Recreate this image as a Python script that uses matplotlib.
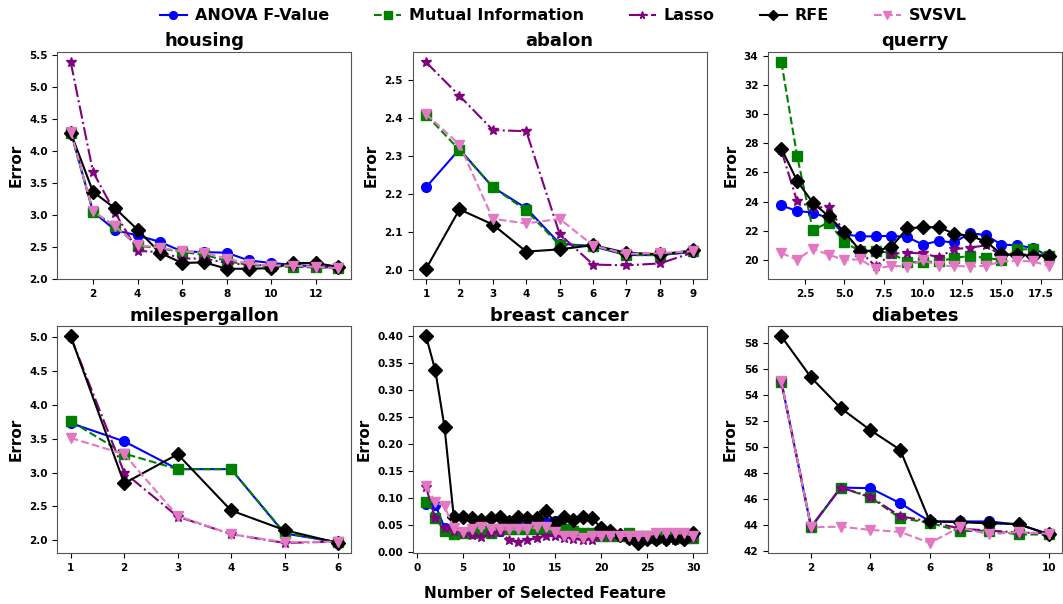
import numpy as np
import matplotlib
matplotlib.use("Agg")
import matplotlib.pyplot as plt

plt.rcParams.update({
    "font.weight": "bold", "axes.labelweight": "bold", "axes.titleweight": "bold",
    "xtick.labelsize": 7.5, "ytick.labelsize": 7.5,
})

# --- data -------------------------------------------------------------------
methods = ["ANOVA F-Value", "Mutual Information", "Lasso", "RFE", "SVSVL"]
STYLE = {
    "ANOVA F-Value": dict(color="blue", ls="-", marker="o"),
    "Mutual Information": dict(color="green", ls="--", marker="s"),
    "Lasso": dict(color="purple", ls="-.", marker="*"),
    "RFE": dict(color="black", ls="-", marker="D"),
    "SVSVL": dict(color="#e377c2", ls="--", marker="v"),
}

housing_anova = [4.30, 3.05, 2.76, 2.68, 2.58, 2.43, 2.42, 2.41, 2.29, 2.25, 2.22, 2.20, 2.18]
housing_mi = [4.28, 3.05, 2.82, 2.52, 2.48, 2.42, 2.38, 2.28, 2.22, 2.20, 2.19, 2.18, 2.17]
housing_lasso = [5.38, 3.67, 3.03, 2.44, 2.42, 2.32, 2.32, 2.25, 2.22, 2.21, 2.21, 2.19, 2.17]
housing_rfe = [4.28, 3.36, 3.10, 2.77, 2.41, 2.25, 2.26, 2.16, 2.16, 2.17, 2.25, 2.25, 2.19]
housing_svsvl = [4.30, 3.06, 2.82, 2.53, 2.49, 2.43, 2.41, 2.32, 2.24, 2.21, 2.21, 2.19, 2.17]

abalon_anova = [2.218, 2.318, 2.218, 2.163, 2.070, 2.063, 2.040, 2.040, 2.048]
abalon_mi = [2.408, 2.316, 2.218, 2.157, 2.066, 2.065, 2.040, 2.040, 2.050]
abalon_lasso = [2.546, 2.458, 2.368, 2.365, 2.095, 2.015, 2.013, 2.018, 2.047]
abalon_rfe = [2.004, 2.160, 2.120, 2.049, 2.055, 2.066, 2.046, 2.042, 2.052]
abalon_svsvl = [2.410, 2.330, 2.135, 2.123, 2.135, 2.065, 2.043, 2.045, 2.050]

querry_anova = [23.74, 23.35, 23.25, 22.86, 21.76, 21.62, 21.62, 21.66, 21.57, 21.06,
                21.30, 21.20, 21.85, 21.70, 21.06, 21.00, 20.83, 20.26]
querry_mi = [33.54, 27.12, 22.06, 22.56, 21.23, 20.60, 20.60, 20.50, 19.84, 19.86,
             19.90, 20.14, 20.28, 20.14, 20.00, 20.72, 20.75, 20.30]
querry_lasso = [27.50, 24.01, 23.60, 23.62, 21.90, 20.60, 19.57, 20.42, 20.50, 20.45,
                20.19, 20.74, 20.85, 21.00, 20.30, 20.40, 20.35, 20.30]
querry_rfe = [27.63, 25.42, 23.92, 23.00, 21.94, 20.65, 20.62, 20.90, 22.17, 22.24,
              22.25, 21.80, 21.65, 21.28, 20.40, 20.35, 20.30, 20.30]
querry_svsvl = [20.47, 20.03, 20.77, 20.37, 20.00, 20.05, 19.40, 19.60, 19.55, 20.00,
                19.60, 19.60, 19.55, 19.60, 19.90, 19.95, 19.90, 19.60]

mpg_anova = [3.73, 3.46, 3.05, 3.05, 2.10, 1.97]
mpg_mi = [3.76, 3.28, 3.05, 3.05, 2.11, 1.97]
mpg_lasso = [5.00, 3.00, 2.35, 2.09, 1.96, 1.98]
mpg_rfe = [5.01, 2.84, 3.27, 2.44, 2.15, 1.96]
mpg_svsvl = [3.51, 3.27, 2.36, 2.09, 1.97, 1.98]

bc_anova = [0.090, 0.088, 0.045, 0.040, 0.037, 0.040, 0.038, 0.040, 0.040, 0.045,
            0.050, 0.048, 0.048, 0.055, 0.058, 0.040, 0.038, 0.035, 0.035, 0.032,
            0.032, 0.030, 0.030, 0.030, 0.030, 0.030, 0.030, 0.030, 0.030, 0.030]
bc_mi = [0.093, 0.063, 0.040, 0.034, 0.035, 0.035, 0.040, 0.035, 0.042, 0.043,
         0.043, 0.043, 0.043, 0.043, 0.045, 0.043, 0.040, 0.035, 0.035, 0.030,
         0.030, 0.030, 0.035, 0.030, 0.030, 0.027, 0.030, 0.030, 0.027, 0.027]
bc_lasso = [0.120, 0.063, 0.045, 0.040, 0.035, 0.032, 0.028, 0.035, 0.037, 0.023,
            0.018, 0.022, 0.026, 0.030, 0.030, 0.027, 0.025, 0.022, 0.022, 0.030,
            0.030, 0.030, 0.025, 0.025, 0.025, 0.022, 0.022, 0.022, 0.025, 0.027]
bc_rfe = [0.400, 0.337, 0.232, 0.066, 0.066, 0.063, 0.060, 0.063, 0.066, 0.056,
          0.066, 0.063, 0.063, 0.077, 0.054, 0.066, 0.060, 0.066, 0.063, 0.045,
          0.040, 0.032, 0.027, 0.017, 0.025, 0.025, 0.025, 0.027, 0.025, 0.035]
bc_svsvl = [0.122, 0.093, 0.085, 0.045, 0.037, 0.042, 0.046, 0.042, 0.042, 0.042,
            0.042, 0.042, 0.046, 0.046, 0.037, 0.030, 0.030, 0.027, 0.030, 0.030,
            0.030, 0.030, 0.030, 0.030, 0.030, 0.035, 0.035, 0.035, 0.035, 0.030]

diab_anova = [55.00, 43.85, 46.90, 46.85, 45.70, 44.30, 44.30, 44.30, 44.05, 43.35]
diab_mi = [55.00, 43.85, 46.90, 46.15, 44.55, 44.20, 43.55, 43.60, 43.30, 43.30]
diab_lasso = [55.00, 43.90, 46.90, 46.20, 44.70, 44.30, 43.75, 43.60, 43.45, 43.40]
diab_rfe = [58.50, 55.35, 53.00, 51.30, 49.80, 44.30, 44.25, 44.15, 44.10, 43.30]
diab_svsvl = [55.05, 43.85, 43.90, 43.65, 43.50, 42.65, 43.85, 43.30, 43.50, 43.35]

datasets = [
    ("housing", [housing_anova, housing_mi, housing_lasso, housing_rfe, housing_svsvl]),
    ("abalon", [abalon_anova, abalon_mi, abalon_lasso, abalon_rfe, abalon_svsvl]),
    ("querry", [querry_anova, querry_mi, querry_lasso, querry_rfe, querry_svsvl]),
    ("milespergallon", [mpg_anova, mpg_mi, mpg_lasso, mpg_rfe, mpg_svsvl]),
    ("breast cancer", [bc_anova, bc_mi, bc_lasso, bc_rfe, bc_svsvl]),
    ("diabetes", [diab_anova, diab_mi, diab_lasso, diab_rfe, diab_svsvl]),
]

# --- figure -----------------------------------------------------------------
fig, axes = plt.subplots(2, 3, figsize=(10.63, 6.04), dpi=100)
fig.subplots_adjust(left=0.054, right=0.999, top=0.914, bottom=0.084,
                    wspace=0.209, hspace=0.207)

for ax, (name, series) in zip(axes.ravel(), datasets):
    for m, vals in zip(methods, series):
        x = np.arange(1, len(vals) + 1)
        ax.plot(x, vals, lw=1.5, ms=7, label=m, **STYLE[m])
    ax.set_title(name, fontsize=13, pad=4)
    ax.set_ylabel("Error", fontsize=11)
    for s in ax.spines.values():
        s.set_color("#555")

handles, labels = axes[0, 0].get_legend_handles_labels()
fig.legend(handles, labels, loc="upper center", bbox_to_anchor=(0.53, 1.01),
           ncol=5, frameon=False, prop={"weight": "bold", "size": 11.5},
           columnspacing=2.8, handlelength=1.7, handletextpad=0.5, markerscale=0.8)
fig.text(0.513, 0.005, "Number of Selected Feature", ha="center", va="bottom",
         fontsize=11, fontweight="bold")

fig.savefig("out.png")
